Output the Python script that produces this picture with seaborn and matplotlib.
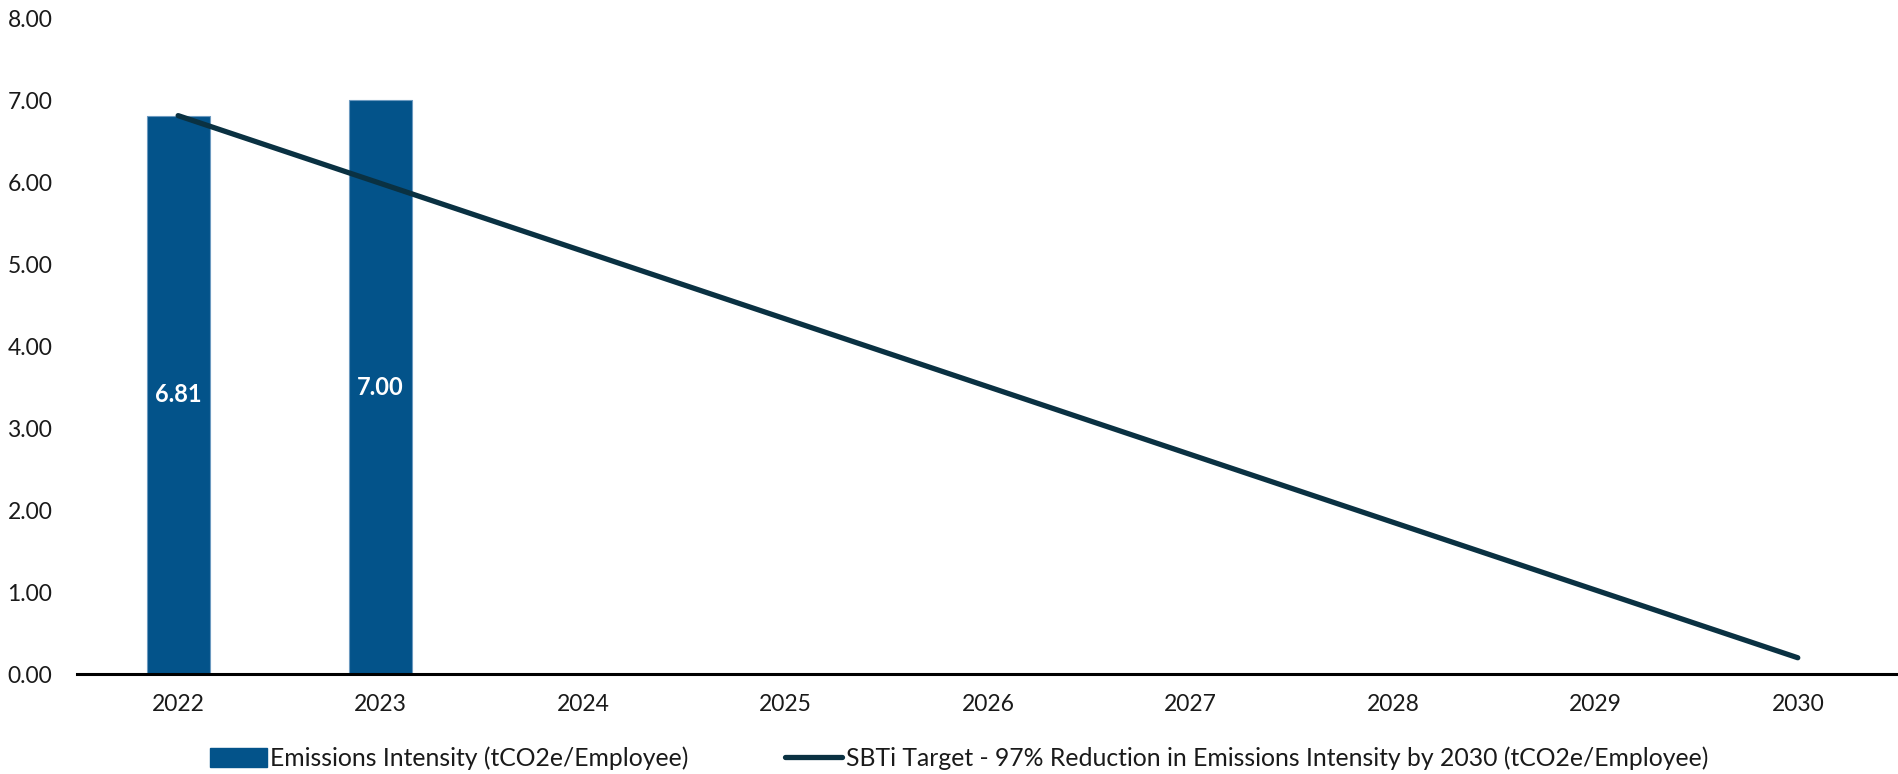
import matplotlib
matplotlib.use("Agg")
import matplotlib.pyplot as plt
from matplotlib.lines import Line2D
from matplotlib.patches import Patch
import seaborn as sns
import pandas as pd

# Chart data
years = ["2022", "2023", "2024", "2025", "2026", "2027", "2028", "2029", "2030"]
intensity_years = ["2022", "2023"]
intensity_values = [6.81, 7.00]
target_years = ["2022", "2030"]
target_values = [6.81, 0.20]
y_ticks = [0, 1, 2, 3, 4, 5, 6, 7, 8]

bar_label = "Emissions Intensity (tCO2e/Employee)"
line_label = "SBTi Target - 97% Reduction in Emissions Intensity by 2030 (tCO2e/Employee)"

BAR_COLOR = "#03538A"
LINE_COLOR = "#0A3142"
TEXT_COLOR = "#1a1a1a"

sns.set_theme(style="white")
plt.rcParams["font.family"] = ["Lato", "DejaVu Sans"]

fig = plt.figure(figsize=(18.99, 7.74), dpi=100)
ax = fig.add_axes([0.0405, 0.129, 0.9595, 0.8477])

bars_df = pd.DataFrame({"year": intensity_years, "value": intensity_values})
sns.barplot(data=bars_df, x="year", y="value", order=years, color=BAR_COLOR,
            width=0.31, saturation=1, edgecolor="#6C9AC0", linewidth=0.8, ax=ax)

# Value labels centred inside the bars
for patch, val in zip([p for p in ax.patches if p.get_height() > 0], intensity_values):
    ax.text(patch.get_x() + patch.get_width() / 2, val / 2, f"{val:.2f}",
            ha="center", va="center", color="white", fontsize=17, fontweight="bold")

# Target trajectory
line_df = pd.DataFrame({"pos": [years.index(y) for y in target_years], "value": target_values})
sns.lineplot(data=line_df, x="pos", y="value", color=LINE_COLOR, linewidth=3.8,
             solid_capstyle="round", ax=ax)

ax.set_xlim(-0.5, len(years) - 0.5)
ax.set_ylim(0, 8)
ax.set_yticks(y_ticks)
ax.set_yticklabels([f"{t:.2f}" for t in y_ticks], fontsize=16.5, color=TEXT_COLOR)
ax.set_xticks(range(len(years)))
ax.set_xticklabels(years, fontsize=16.5, color=TEXT_COLOR)
ax.tick_params(axis="y", length=0, pad=50)
ax.tick_params(axis="x", length=0, pad=14)
for lbl in ax.get_yticklabels():
    lbl.set_horizontalalignment("left")
ax.set_xlabel("")
ax.set_ylabel("")
ax.grid(False)
for side in ["left", "right", "top"]:
    ax.spines[side].set_visible(False)
ax.spines["bottom"].set_color("black")
ax.spines["bottom"].set_linewidth(2.2)
ax.patch.set_alpha(0)

handles = [
    Patch(facecolor=BAR_COLOR, edgecolor=BAR_COLOR, label=bar_label),
    Line2D([0], [0], color=LINE_COLOR, linewidth=3.8, solid_capstyle="round", label=line_label),
]
fig.legend(handles=handles, loc="center", bbox_to_anchor=(0.505, 0.02), ncol=2,
           frameon=False, fontsize=17.8, handlelength=2.3, handleheight=0.8,
           handletextpad=0.15, columnspacing=3.9, labelcolor=TEXT_COLOR)

fig.savefig("out.png", dpi=100)
